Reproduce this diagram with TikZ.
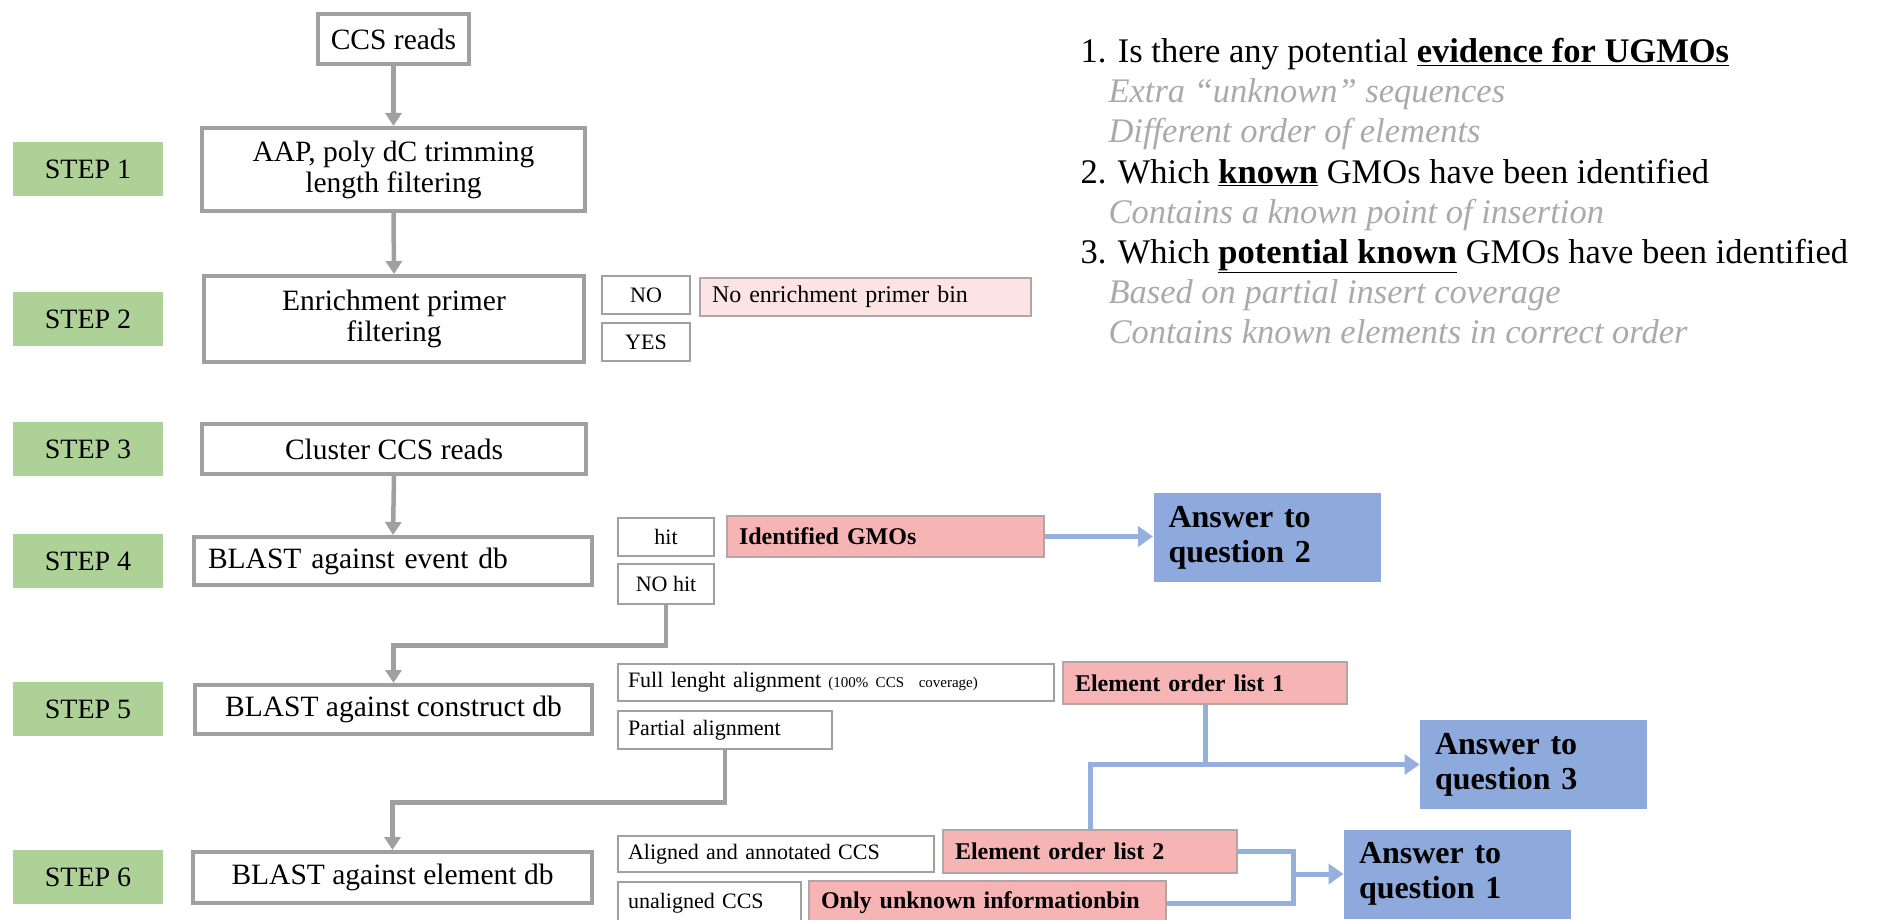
\documentclass[tikz,border=0pt]{standalone}
\usepackage{fontspec}
\setmainfont{Liberation Serif}
\usetikzlibrary{arrows.meta}

\definecolor{boxgray}{RGB}{160,160,160}
\definecolor{stepgreen}{RGB}{173,209,150}
\definecolor{gmopink}{RGB}{247,180,180}
\definecolor{binpink}{RGB}{252,228,228}
\definecolor{pinkedge}{RGB}{180,165,165}
\definecolor{answerblue}{RGB}{142,169,219}
\definecolor{lineblue}{RGB}{150,176,222}
\definecolor{hintgray}{RGB}{170,170,170}

\newcommand{\stepfs}{\fontsize{28}{30}\selectfont}
\newcommand{\mainfs}{\fontsize{29.5}{31}\selectfont}
\newcommand{\sidefs}{\fontsize{22}{24}\selectfont}
\newcommand{\binfs}{\fontsize{24}{26}\selectfont}
\newcommand{\tinyfs}{\fontsize{15}{16}\selectfont}
\newcommand{\boldfs}{\fontsize{24}{26}\selectfont\bfseries}
\newcommand{\answerfs}{\fontsize{32}{35}\selectfont\bfseries}
\newcommand{\questfs}{\fontsize{34.5}{38}\selectfont}
\newcommand{\hintfs}{\fontsize{34.5}{38}\selectfont}

\tikzset{every picture/.style={line width=1pt}}
\tikzset{
  stepbox/.style={fill=stepgreen, minimum width=150pt, minimum height=54pt, inner sep=0pt, font=\stepfs},
  mainbox/.style={draw=boxgray, line width=4pt, fill=white, inner sep=0pt, align=center, font=\mainfs},
  optbox/.style={draw=boxgray, line width=2.5pt, fill=white, inner sep=0pt, align=center, font=\sidefs},
  leftbox/.style={optbox, inner xsep=10pt, align=left},
  binbox/.style={draw=pinkedge, line width=1.5pt, fill=gmopink, inner xsep=12pt, inner ysep=0pt, align=left, font=\boldfs},
  answerbox/.style={fill=answerblue, inner xsep=15pt, inner ysep=0pt, text width=197pt, minimum height=89pt, align=left, font=\answerfs},
  flow/.style={draw=boxgray, line width=4.5pt, -{Triangle[length=13pt,width=16pt]}},
  blueflow/.style={draw=lineblue, line width=5pt},
  bluearrow/.style={blueflow, -{Triangle[length=15pt,width=20pt]}},
  questtext/.style={inner sep=0pt, font=\questfs},
  hinttext/.style={inner sep=0pt, font=\hintfs\itshape, text=hintgray}
}

\begin{document}
\begin{tikzpicture}[x=1pt,y=1pt,yscale=-1,xscale=1]
	\useasboundingbox (0,0) rectangle (1878,920);
	\clip (0,0) rectangle (1878,920);

	%Step labels
	\node [stepbox] (s1) at (88,169) {STEP 1};
	\node [stepbox] (s2) at (88,319) {STEP 2};
	\node [stepbox] (s3) at (88,449) {STEP 3};
	\node [stepbox] (s4) at (88,561) {STEP 4};
	\node [stepbox] (s5) at (88,709) {STEP 5};
	\node [stepbox] (s6) at (88,877) {STEP 6};

	%Main column
	\node [mainbox, minimum width=151pt, minimum height=50pt] (ccs) at (393.5,39) {CCS reads};
	\node [mainbox, minimum width=383pt, minimum height=83pt] (aap) at (393.5,169.5) {AAP, poly dC trimming\\length filtering};
	\node [mainbox, minimum width=380pt, minimum height=86pt] (enr) at (394,319) {Enrichment primer\\filtering};
	\node [mainbox, minimum width=384pt, minimum height=50pt] (clu) at (394,449) {Cluster CCS reads};
	\node [mainbox, minimum width=398pt, minimum height=48pt, inner xsep=14pt, text width=370pt, align=left] (evt) at (393,561) {BLAST against event db};
	\node [mainbox, minimum width=397pt, minimum height=49pt] (con) at (393.5,709.5) {BLAST against construct db};
	\node [mainbox, minimum width=399pt, minimum height=51pt] (ele) at (392.5,877.5) {BLAST against element db};

	%Step 2 outcomes
	\node [optbox, minimum width=88pt, minimum height=38pt] (no) at (646,295) {NO};
	\node [optbox, minimum width=88pt, minimum height=38pt] (yes) at (646,342) {YES};
	\node [binbox, fill=binpink, font=\binfs, minimum height=38pt, text width=307pt] (nobin) at (865.5,297) {No enrichment primer bin};

	%Step 4 outcomes
	\node [optbox, minimum width=96pt, minimum height=38pt] (hit) at (666,537) {hit};
	\node [optbox, minimum width=96pt, minimum height=40pt] (nohit) at (666,584) {NO hit};
	\node [binbox, minimum height=41pt, text width=293pt] (gmo) at (885.5,536.5) {Identified GMOs};
	\node [answerbox] (q2) at (1267,537.5) {Answer to\\question 2};

	%Step 5 outcomes
	\node [leftbox, minimum height=37pt, text width=416pt] (full) at (836,682.5) {Full lenght alignment {\tinyfs (100\% CCS~~coverage)}};
	\node [leftbox, minimum height=38pt, text width=194pt] (part) at (725,730) {Partial alignment};
	\node [binbox, minimum height=42pt, text width=260pt] (eol1) at (1205,683) {Element order list 1};
	\node [answerbox] (q3) at (1533.5,764.5) {Answer to\\question 3};

	%Step 6 outcomes
	\node [leftbox, minimum height=36pt, text width=296pt] (ali) at (776,854) {Aligned and annotated CCS};
	\node [leftbox, minimum height=42pt, text width=163pt] (una) at (709.5,903) {unaligned CCS};
	\node [binbox, minimum height=43pt, text width=270pt] (eol2) at (1090,851.5) {Element order list 2};
	\node [binbox, minimum height=44pt, text width=333pt] (unk) at (987.5,903) {Only unknown informationbin};
	\node [answerbox] (q1) at (1457.5,874) {Answer to\\question 1};
	\coordinate (merge) at (1293,874);

	%Gray flow
	\draw [flow] (ccs.south) -- (aap.north);
	\draw [flow] (aap.south) -- (enr.north);
	\draw [flow] (clu.south) -- (evt.north);
	\draw [flow] (nohit.south) -- ++(0,40) -| (con.north);
	\draw [flow] (part.south) -- ++(0,52) -| (ele.north);

	%Blue flow
	\draw [bluearrow] (gmo.east) -- (gmo.east -| q2.west);
	\draw [bluearrow] (eol1.south) |- (q3.west);
	\draw [blueflow] (eol2.north) |- (eol1.south |- q3.west);
	\draw [blueflow] (eol2.east) -| (merge) |- (unk.east);
	\draw [bluearrow] (merge) -- (q1.west);

	%Questions
	\node [questtext, anchor=base west] (qa) at (1080,63) {1. Is there any potential \textbf{\underline{evidence for UGMOs}}};
	\node [hinttext, anchor=base west] (qa1) at (1108,103) {Extra “unknown” sequences};
	\node [hinttext, anchor=base west] (qa2) at (1108,143) {Different order of elements};
	\node [questtext, anchor=base west] (qb) at (1080,183) {2. Which \textbf{\underline{known}} GMOs have been identified};
	\node [hinttext, anchor=base west] (qb1) at (1108,223) {Contains a known point of insertion};
	\node [questtext, anchor=base west] (qc) at (1080,263) {3. Which \textbf{\underline{potential known}} GMOs have been identified};
	\node [hinttext, anchor=base west] (qc1) at (1108,303) {Based on partial insert coverage};
	\node [hinttext, anchor=base west] (qc2) at (1108,343) {Contains known elements in correct order};

\end{tikzpicture}
\end{document}
